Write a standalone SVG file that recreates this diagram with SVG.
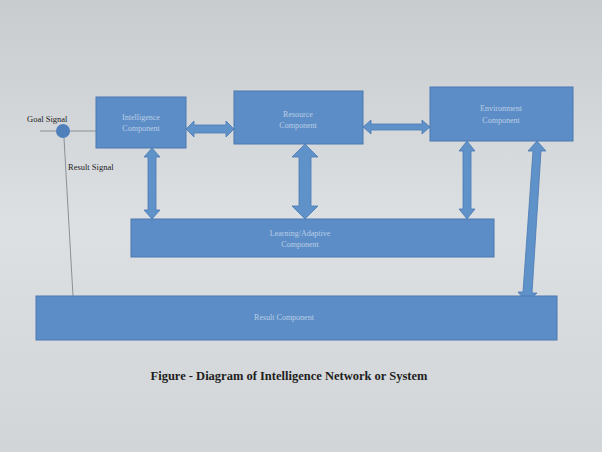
<svg xmlns="http://www.w3.org/2000/svg" width="602" height="452" viewBox="0 0 602 452">
<defs>
<linearGradient id="bg" x1="0" y1="0" x2="0" y2="1">
<stop offset="0" stop-color="#c9cccf"/><stop offset="0.5" stop-color="#dde0e2"/><stop offset="1" stop-color="#d2d5d7"/>
</linearGradient>
<style>
.box{fill:#5d8dc6;stroke:#4a79b2;stroke-width:1}
.arr{fill:#6092ca;stroke:#4a79b2;stroke-width:0.8}
.lbl{font-family:"Liberation Serif",serif;font-size:8px;fill:#b9cde6;text-anchor:middle}
.sig{font-family:"Liberation Serif",serif;font-size:8.5px;fill:#222}
.line{stroke:#8a9097;stroke-width:1;fill:none}
</style>
</defs>
<rect width="602" height="452" fill="url(#bg)"/>
<g id="connectors">
<line class="line" x1="40" y1="131" x2="96" y2="131"/>
<line class="line" x1="64" y1="138" x2="73" y2="296"/>
<polygon class="arr" points="186,129 194,121 194,125 226,125 226,121 234,129 226,137 226,133 194,133 194,137"/>
<polygon class="arr" points="363,127 371,120 371,124 422,124 422,120 430,127 422,134 422,130 371,130 371,134"/>
<polygon class="arr" points="152,148 160,157 156,157 156,210 160,210 152,219 144,210 148,210 148,157 144,157"/>
<polygon class="arr" points="305,144 318,157 311,157 311,206 318,206 305,219 292,206 299,206 299,157 292,157"/>
<polygon class="arr" points="467,141 475,151 471,151 471,209 475,209 467,219 459,209 463,209 463,151 459,151"/>
<polygon class="arr" points="537,141 546,151 541,151 532,293 537,293 527,303 518,292 523,292 533,151 528,151"/>
<circle cx="63" cy="131" r="7" fill="#4f80bb"/>
</g>
<g id="intelligence"><rect class="box" x="96" y="97" width="90" height="51"/><text class="lbl" x="141" y="120">Intelligence</text><text class="lbl" x="141" y="131">Component</text></g>
<g id="resource"><rect class="box" x="234" y="91" width="129" height="53"/><text class="lbl" x="298" y="117">Resource</text><text class="lbl" x="298" y="128">Component</text></g>
<g id="environment"><rect class="box" x="430" y="87" width="143" height="54"/><text class="lbl" x="501" y="111">Environment</text><text class="lbl" x="501" y="123">Component</text></g>
<g id="learning"><rect class="box" x="131" y="219" width="363" height="38"/><text class="lbl" x="300" y="236">Learning/Adaptive</text><text class="lbl" x="300" y="247">Component</text></g>
<g id="result"><rect class="box" x="36" y="296" width="521" height="44"/><text class="lbl" x="284" y="320">Result Component</text></g>
<text class="sig" x="27" y="122">Goal Signal</text>
<text class="sig" x="68" y="170">Result Signal</text>
<text x="289" y="380" font-family="Liberation Serif,serif" font-size="12.5px" font-weight="bold" fill="#1e1e1e" text-anchor="middle">Figure - Diagram of Intelligence Network or System</text>
</svg>
